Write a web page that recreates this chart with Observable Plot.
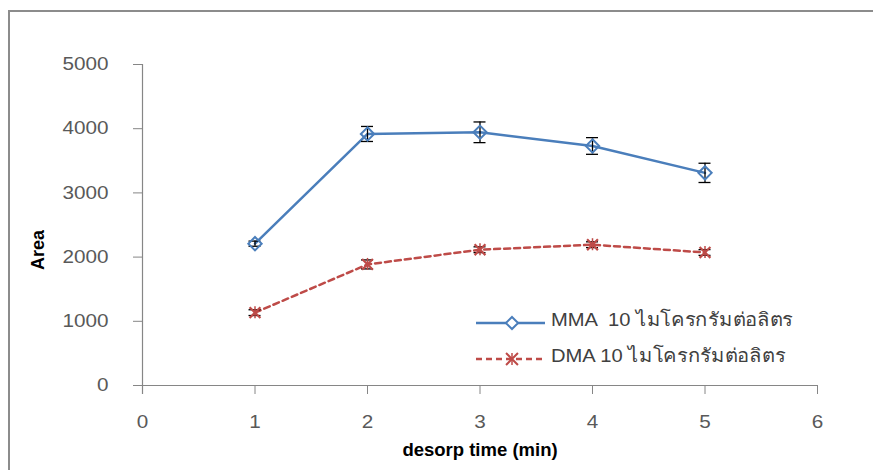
<!DOCTYPE html>
<html>
<head>
<meta charset="utf-8">
<script src="https://cdn.jsdelivr.net/npm/d3@7"></script>
<script src="https://cdn.jsdelivr.net/npm/@observablehq/plot@0.6"></script>
<style>
  html, body { margin: 0; padding: 0; background: #fff; }
  #wrap { position: relative; width: 873px; height: 470px; overflow: hidden; font-family: "Liberation Sans", Arial, sans-serif; }
  #frame { position: absolute; left: 8px; top: 10px; width: 900px; height: 500px; border-left: 2px solid #8c8c8c; border-top: 2px solid #8c8c8c; pointer-events: none; }
  #chart { position: absolute; left: 0; top: 0; }
  #legend { position: absolute; left: 476px; top: 305px; font-size: 19px; color: #404040; }
  .row { display: flex; align-items: center; height: 36px; white-space: pre; }
  .row svg { display: block; margin-right: 5px; }
  .row span { position: relative; top: -4px; display: inline-block; transform-origin: left center; }
</style>
</head>
<body>
<div id="wrap">
  <div id="chart"></div>
  <div id="frame"></div>
  <div id="legend"></div>
</div>
<script>
const times = [1, 2, 3, 4, 5];
const seriesNames = ["MMA  10 ไมโครกรัมต่อลิตร", "DMA 10 ไมโครกรัมต่อลิตร"];
const mmaValues = [2209, 3918, 3944, 3731, 3312];
const mmaErrors = [40, 117, 161, 130, 150];
const dmaValues = [1135, 1886, 2115, 2193, 2072];
const dmaErrors = [45, 70, 45, 45, 45];
const xTicks = [0, 1, 2, 3, 4, 5, 6];
const yTicks = [0, 1000, 2000, 3000, 4000, 5000];
const xLabel = "desorp time (min)";
const yLabel = "Area";

const blue = "#4a7ebb";
const red = "#be4b48";

const mmaRows = times.map((t, i) => ({t, v: mmaValues[i], e: mmaErrors[i]}));
const dmaRows = times.map((t, i) => ({t, v: dmaValues[i], e: dmaErrors[i]}));

function errorMarks(rows) {
  return [
    Plot.ruleX(rows, {x: "t", y1: d => d.v - d.e, y2: d => d.v + d.e, stroke: "#000", strokeWidth: 1.3}),
    Plot.ruleY(rows, {y: d => d.v + d.e, x1: "t", x2: "t", insetLeft: -6, insetRight: -6, stroke: "#000", strokeWidth: 1.3}),
    Plot.ruleY(rows, {y: d => d.v - d.e, x1: "t", x2: "t", insetLeft: -6, insetRight: -6, stroke: "#000", strokeWidth: 1.3})
  ];
}

const chart = Plot.plot({
  width: 873,
  height: 470,
  marginLeft: 142,
  marginRight: 56,
  marginTop: 64,
  marginBottom: 85,
  style: {fontFamily: "'Liberation Sans', Arial, sans-serif", fontSize: "18px", color: "#595959", background: "transparent"},
  x: {domain: [0, 6]},
  y: {domain: [0, 5000]},
  marks: [
    Plot.axisY({ticks: yTicks, tickSize: 9, tickPadding: 25, label: null, stroke: "#868686", tickFormat: d => String(d)}),
    Plot.axisX({ticks: xTicks, tickSize: 9, tickPadding: 21, label: null, stroke: "#868686", tickFormat: d => String(d)}),
    Plot.ruleX([0], {stroke: "#868686", strokeWidth: 1.2, insetBottom: -9}),
    Plot.ruleY([0], {stroke: "#868686", strokeWidth: 1.2, insetLeft: -9}),
    Plot.line(dmaRows, {x: "t", y: "v", stroke: red, strokeWidth: 2.5, strokeDasharray: "6,4"}),
    Plot.line(mmaRows, {x: "t", y: "v", stroke: blue, strokeWidth: 2.5}),
    ...errorMarks(dmaRows),
    ...errorMarks(mmaRows),
    Plot.dot(mmaRows, {x: "t", y: "v", symbol: "diamond2", r: 6, stroke: blue, strokeWidth: 2, fill: "none"}),
    Plot.dot(dmaRows, {x: "t", y: "v", symbol: "times", r: 5, stroke: red, strokeWidth: 2.2}),
    Plot.ruleX(dmaRows, {x: "t", y1: "v", y2: "v", insetTop: -6, insetBottom: -6, stroke: red, strokeWidth: 1.5}),
    Plot.text([xLabel], {frameAnchor: "bottom", dy: 70, text: d => d, fill: "#000", fontWeight: "bold", fontSize: 18.5}),
    Plot.text([yLabel], {frameAnchor: "left", dx: -104, dy: 45, rotate: -90, text: d => d, fill: "#000", fontWeight: "bold", fontSize: 18})
  ]
});
document.getElementById("chart").appendChild(chart);

// widen the tick labels horizontally about their anchor, as in the reference
function widen(selector, anchor) {
  d3.select(chart).selectAll(selector).each(function() {
    const bb = this.getBBox();
    const ax = anchor === "end" ? bb.x + bb.width : bb.x + bb.width / 2;
    const tr = this.getAttribute("transform") || "";
    this.setAttribute("transform", `${tr} translate(${ax},0) scale(1.15,1) translate(${-ax},0)`);
  });
}
widen("g[aria-label='y-axis tick label'] text", "end");
widen("g[aria-label='x-axis tick label'] text", "middle");

// legend
const legend = document.getElementById("legend");
const legendDefs = [
  {name: seriesNames[0], color: blue, dash: null, symbol: d3.symbolDiamond2},
  {name: seriesNames[1], color: red, dash: "6,4", symbol: d3.symbolTimes}
];
for (const item of legendDefs) {
  const row = document.createElement("div");
  row.className = "row";
  const svg = d3.create("svg").attr("width", 70).attr("height", 20);
  svg.append("line").attr("x1", 0).attr("x2", 69).attr("y1", 10).attr("y2", 10)
    .attr("stroke", item.color).attr("stroke-width", 2.5).attr("stroke-dasharray", item.dash);
  svg.append("path").attr("transform", "translate(36,10)")
    .attr("d", d3.symbol(item.symbol, Math.PI * 30)())
    .attr("fill", item.color === blue ? "#fff" : "none").attr("stroke", item.color).attr("stroke-width", 2);
  if (item.color === red) {
    svg.append("line").attr("x1", 36).attr("x2", 36).attr("y1", 4).attr("y2", 16).attr("stroke", item.color).attr("stroke-width", 1.5);
  }
  row.appendChild(svg.node());
  const span = document.createElement("span");
  span.textContent = item.name;
  row.appendChild(span);
  legend.appendChild(row);
}
// stretch legend text to the reference width
const targetWidth = 242;
const spans = legend.querySelectorAll("span");
const w0 = spans[0].getBoundingClientRect().width;
const s = targetWidth / w0;
spans.forEach(sp => sp.style.transform = `scaleX(${s})`);
</script>
</body>
</html>
